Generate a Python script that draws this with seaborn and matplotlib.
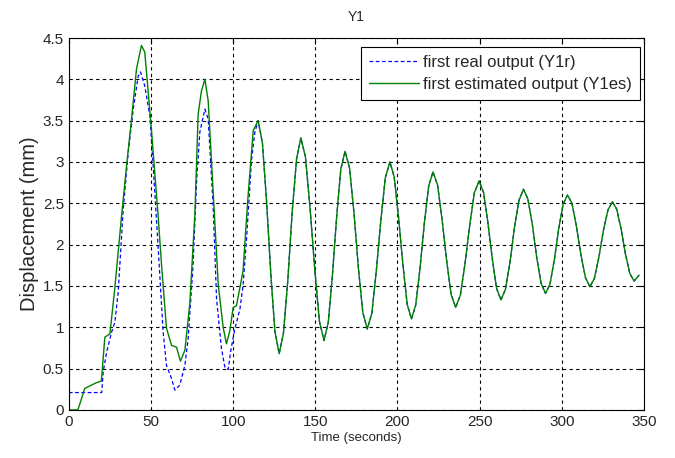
import numpy as np
import pandas as pd
import seaborn as sns
import matplotlib.pyplot as plt

sns.set_style("white")
plt.rcParams['font.family'] = ['Liberation Sans', 'DejaVu Sans']

# first estimated output (Y1es)
t_es = [0, 2, 5.5, 9.7, 16.8, 19.8, 21.9, 25, 28, 32, 35, 38, 41.2, 44.2, 46.2,
        50.3, 54.4, 56.4, 59.4, 62.5, 65.5, 67.9, 70.6, 73.6, 76.7, 78.7, 80.7,
        82.8, 84.8, 87.8, 90.9, 93.9, 95.9, 98, 100, 102, 106, 109, 112.2,
        115.2, 117.8, 120.3, 122.9, 125.4,
        128.0, 130.6, 133.3, 135.9, 138.6,
        141.2, 144.0, 146.8, 149.7, 152.5,
        155.3, 157.9, 160.4, 163.0, 165.5,
        168.1, 170.8, 173.5, 176.2, 178.9,
        181.6, 184.4, 187.1, 189.9, 192.6,
        195.4, 198.0, 200.6, 203.3, 205.9,
        208.5, 211.1, 213.7, 216.4, 219.0,
        221.6, 224.4, 227.1, 229.9, 232.6,
        235.4, 238.3, 241.1, 244.0, 246.8,
        249.7, 252.4, 255.0, 257.7, 260.3,
        263.0, 265.7, 268.5, 271.2, 274.0,
        276.7, 279.4, 282.1, 284.7, 287.4,
        290.1, 292.8, 295.5, 298.1, 300.8,
        303.5, 306.2, 308.9, 311.7, 314.4,
        317.1, 319.8, 322.6, 325.3, 328.1,
        330.8, 333.4, 336.1, 338.7, 341.4,
        344.0, 347.0]
y_es = [0, 0, 0, 0.26, 0.33, 0.35, 0.88, 0.92, 1.48, 2.33, 2.93, 3.49, 4.13,
        4.41, 4.33, 3.38, 2.33, 1.76, 0.99, 0.78, 0.76, 0.59, 0.72, 1.28, 2.37,
        3.58, 3.86, 4.0, 3.74, 2.65, 1.52, 1.0, 0.8, 0.96, 1.24, 1.26, 1.68, 2.57,
        3.38,
        3.50, 3.23, 2.53, 1.65, 0.95,
        0.68, 0.93, 1.58, 2.39, 3.04,
        3.29, 3.06, 2.44, 1.69, 1.07,
        0.84, 1.06, 1.63, 2.34, 2.91,
        3.13, 2.93, 2.39, 1.72, 1.18,
        0.98, 1.17, 1.68, 2.30, 2.81,
        3.00, 2.82, 2.34, 1.76, 1.28,
        1.10, 1.27, 1.71, 2.27, 2.71,
        2.88, 2.72, 2.31, 1.81, 1.40,
        1.24, 1.39, 1.77, 2.24, 2.63,
        2.77, 2.63, 2.27, 1.83, 1.47,
        1.33, 1.46, 1.79, 2.21, 2.54,
        2.67, 2.55, 2.24, 1.85, 1.53,
        1.41, 1.52, 1.82, 2.19, 2.49,
        2.60, 2.50, 2.22, 1.87, 1.60,
        1.49, 1.59, 1.85, 2.17, 2.42,
        2.52, 2.43, 2.19, 1.89, 1.65,
        1.56, 1.63]

# first real output (Y1r), visible part before it merges with the estimate
t_r = [0, 20, 20.9, 23, 26, 28, 30, 33.1, 36.1, 39.2, 42.2, 43.6, 46.2, 49.3,
       51.3, 54.4, 57.4, 59.4, 62.5, 64.5, 67.5, 70.6, 72.6, 75.6, 77.7, 79.7,
       82.8, 84.8, 87.8, 89.9, 92.9, 94.9, 97, 98.4, 101, 104.1, 106, 108, 110.2,
       111.2, 113.2]
y_r = [0.21, 0.21, 0.46, 0.7, 0.94, 1.06, 1.42, 2.43, 3.11, 3.64, 4.04, 4.09,
       3.92, 3.56, 2.96, 1.95, 0.94, 0.54, 0.38, 0.24, 0.3, 0.54, 0.86, 1.75,
       2.75, 3.36, 3.64, 3.52, 2.47, 1.34, 0.74, 0.52, 0.49, 0.7, 0.98, 1.22,
       1.5, 2.03, 2.73, 3.03, 3.36]
# after ~115 s the real output lies under the estimate
t_r = t_r + t_es[39:]
y_r = y_r + y_es[39:]

df_r = pd.DataFrame({'t': t_r, 'y': y_r})
df_es = pd.DataFrame({'t': t_es, 'y': y_es})

fig = plt.figure(figsize=(6.75, 4.58), dpi=100)
ax = fig.add_axes([0.102, 0.105, 0.852, 0.812])

sns.lineplot(data=df_r, x='t', y='y', ax=ax, color='blue', lw=0.9,
             linestyle=(0, (3, 2)), label='first real output (Y1r)',
             estimator=None, sort=False)
sns.lineplot(data=df_es, x='t', y='y', ax=ax, color='green', lw=1.0,
             label='first estimated output (Y1es)', estimator=None, sort=False)

ax.set_xlim(0, 350)
ax.set_ylim(0, 4.5)
ax.set_xticks(np.arange(0, 351, 50))
ax.set_yticks(np.arange(0, 4.51, 0.5))
ax.set_yticklabels(['0', '0.5', '1', '1.5', '2', '2.5', '3', '3.5', '4', '4.5'])
ax.grid(True, color='black', linestyle=(0, (3, 3)), lw=0.8)
ax.tick_params(direction='in', length=4, labelsize=11, top=True, right=True,
               color='black')
for lab in ax.get_xticklabels() + ax.get_yticklabels():
    lab.set_family(['Liberation Sans Narrow', 'Liberation Sans'])
for s in ax.spines.values():
    s.set_color('black')
    s.set_linewidth(0.8)

ax.set_title('Y1', fontsize=10, pad=12)
ax.set_xlabel('Time (seconds)', fontsize=9.5, labelpad=2)
ax.set_ylabel('Displacement (mm)', fontsize=14.5, labelpad=3)

leg = ax.legend(loc='upper right', bbox_to_anchor=(0.993, 0.976),
                borderaxespad=0, fontsize=12, fancybox=False, framealpha=1,
                edgecolor='black', handlelength=3.0, borderpad=0.5,
                labelspacing=0.4, handletextpad=0.2)
leg.get_frame().set_linewidth(0.8)

fig.savefig('out.png', dpi=100)
